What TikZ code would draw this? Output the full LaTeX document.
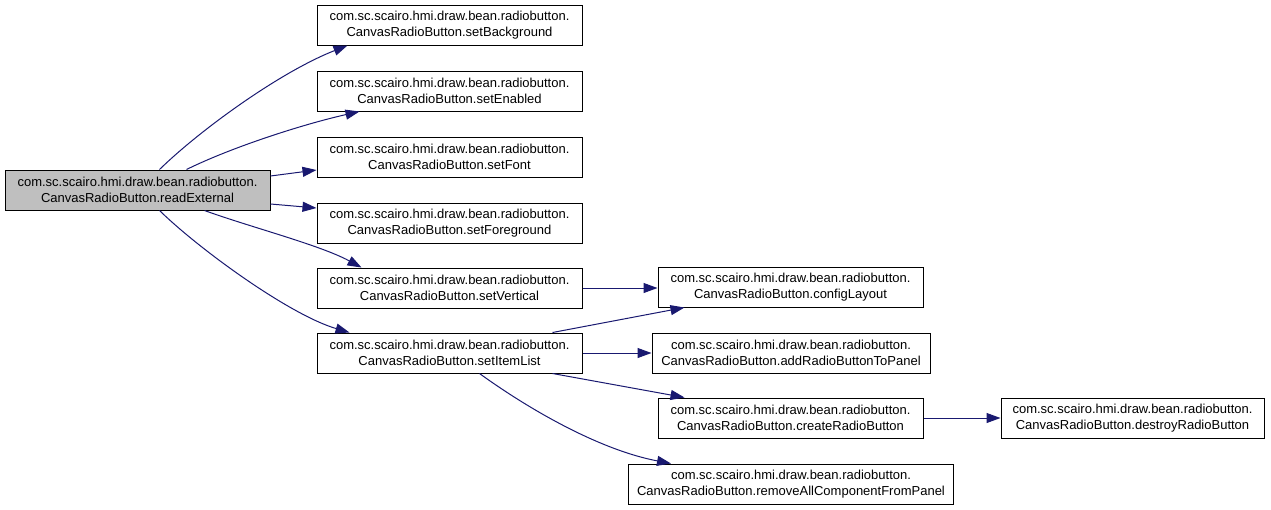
\documentclass[tikz,border=0pt]{standalone}
\usepackage{fontspec}
\setmainfont{Liberation Sans}
\usetikzlibrary{arrows.meta}
\definecolor{edgec}{HTML}{191970}
\definecolor{fillgray}{HTML}{BFBFBF}
\tikzset{
  fn/.style={draw=black, line width=1pt, rectangle, minimum height=40pt, inner sep=0pt, align=center,
    font=\fontsize{13pt}{16pt}\selectfont, fill=white},
  cur/.style={fn, fill=fillgray},
  edge/.style={draw=edgec, line width=1pt, -{Triangle[length=14pt,width=10pt]}},
}
\begin{document}
\begin{tikzpicture}[x=1pt,y=-1pt]
\useasboundingbox (0,0) rectangle (1271,509);
\node[cur, minimum width=265pt] (re) at (137.5,190) {com.sc.scairo.hmi.draw.bean.radiobutton.\\CanvasRadioButton.readExternal};
\node[fn, minimum width=265pt] (bg) at (449.5,25) {com.sc.scairo.hmi.draw.bean.radiobutton.\\CanvasRadioButton.setBackground};
\node[fn, minimum width=265pt] (en) at (449.5,91) {com.sc.scairo.hmi.draw.bean.radiobutton.\\CanvasRadioButton.setEnabled};
\node[fn, minimum width=265pt] (fo) at (449.5,157) {com.sc.scairo.hmi.draw.bean.radiobutton.\\CanvasRadioButton.setFont};
\node[fn, minimum width=265pt] (fg) at (449.5,223) {com.sc.scairo.hmi.draw.bean.radiobutton.\\CanvasRadioButton.setForeground};
\node[fn, minimum width=265pt] (ve) at (449.5,288) {com.sc.scairo.hmi.draw.bean.radiobutton.\\CanvasRadioButton.setVertical};
\node[fn, minimum width=265pt] (il) at (449.5,353) {com.sc.scairo.hmi.draw.bean.radiobutton.\\CanvasRadioButton.setItemList};
\node[fn, minimum width=265pt] (cl) at (790.5,287) {com.sc.scairo.hmi.draw.bean.radiobutton.\\CanvasRadioButton.configLayout};
\node[fn, minimum width=278pt] (ad) at (791,353) {com.sc.scairo.hmi.draw.bean.radiobutton.\\CanvasRadioButton.addRadioButtonToPanel};
\node[fn, minimum width=265pt] (cr) at (790.5,418) {com.sc.scairo.hmi.draw.bean.radiobutton.\\CanvasRadioButton.createRadioButton};
\node[fn, minimum width=325pt] (rm) at (791,484) {com.sc.scairo.hmi.draw.bean.radiobutton.\\CanvasRadioButton.removeAllComponentFromPanel};
\node[fn, minimum width=263pt] (de) at (1132.5,418) {com.sc.scairo.hmi.draw.bean.radiobutton.\\CanvasRadioButton.destroyRadioButton};

\draw[edge] ([xshift=155pt]re.north west) .. controls (200,130) and (280,72) .. ([xshift=31pt]bg.south west);
\draw[edge] ([xshift=182pt]re.north west) .. controls (230,148) and (300,125) .. ([xshift=43pt]en.south west);
\draw[edge] ([yshift=14pt]re.east) -- ([yshift=-13pt]fo.west);
\draw[edge] ([yshift=-14pt]re.east) -- ([yshift=15pt]fg.west);
\draw[edge] ([xshift=200pt]re.south west) .. controls (250,227) and (320,245) .. ([xshift=45pt]ve.north west);
\draw[edge] ([xshift=155pt]re.south west) .. controls (200,250) and (290,315) .. ([xshift=33pt]il.north west);
\draw[edge] (ve.east) -- (ve.east -| cl.west);
\draw[edge] ([xshift=236pt]il.north west) -- ([xshift=27pt]cl.south west);
\draw[edge] (il.east) -- (il.east -| ad.west);
\draw[edge] ([xshift=236pt]il.south west) -- ([xshift=27pt]cr.north west);
\draw[edge] ([xshift=163pt]il.south west) .. controls (530,410) and (600,450) .. ([xshift=43pt]rm.north west);
\draw[edge] (cr.east) -- (de.west);
\end{tikzpicture}
\end{document}
